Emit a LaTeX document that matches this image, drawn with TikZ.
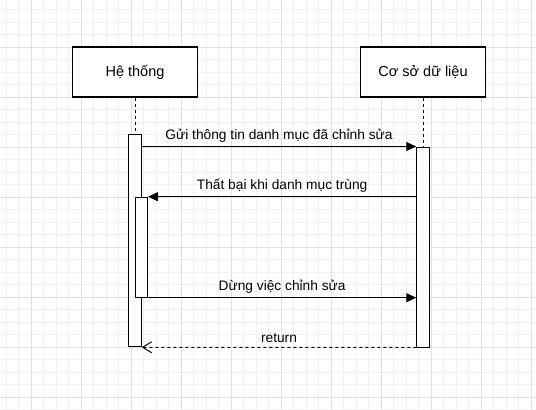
\documentclass[tikz,border=0pt]{standalone}
\usepackage{fontspec}
\setmainfont{Liberation Sans}
\usepackage{tikz}
\usetikzlibrary{positioning, calc, arrows.meta}
\definecolor{gridminor}{HTML}{F1F1F1}
\definecolor{gridmajor}{HTML}{E0E0E0}
\tikzset{lifebox/.style = {rectangle,draw,line width=1.2pt,fill=white,minimum width=125pt,minimum height=50pt,inner sep=0pt,font=\fontsize{14.5}{17}\selectfont},
         actbar/.style = {rectangle,draw,line width=1pt,fill=white,minimum width=12.5pt,inner sep=0pt},
         lifeline/.style = {line width=1pt,dash pattern=on 3pt off 3pt},
         msg/.style = {line width=1pt,-{Triangle[length=10pt,width=9pt]}},
         reply/.style = {line width=1pt,dash pattern=on 3pt off 3pt,-{Straight Barb[length=9pt,width=11pt]}},
         msglabel/.style = {above=3pt,inner sep=1pt}}

\begin{document}
\begin{tikzpicture}[x=1pt,y=-1pt,font=\fontsize{13.75}{16}\selectfont]
        \useasboundingbox (0,0) rectangle (536,410);
        % grid
        \foreach \x in {6.25,18.75,...,531.25} \draw[gridminor,line width=1pt] (\x,0) -- (\x,410);
        \foreach \y in {9.5,22,...,409.5} \draw[gridminor,line width=1pt] (0,\y) -- (536,\y);
        \foreach \x in {31.25,81.25,...,531.25} \draw[gridmajor,line width=1pt] (\x,0) -- (\x,410);
        \foreach \y in {47,97,...,397} \draw[gridmajor,line width=1pt] (0,\y) -- (536,\y);

        \node [lifebox] (sys) at (135,72)   {Hệ thống};
        \node [lifebox] (db)  at (423,72)   {Cơ sở dữ liệu};

        \node [actbar,minimum height=212.5pt] (sysbar) at (135,240.5)  {};
        \node [actbar,minimum height=200pt]   (dbbar)  at (423,247)    {};

        \draw [lifeline] (sys.south) -- (sysbar.north);
        \draw [lifeline] (db.south) -- (dbbar.north);
        \node [actbar,minimum height=100pt]   (retry)  at (141.25,247.2) {};

        \draw [msg] (sysbar.east |- dbbar.north) -- node[msglabel] {Gửi thông tin danh mục đã chỉnh sửa} (dbbar.north west);
        \draw [msg] (dbbar.west |- retry.north) -- node[msglabel] {Thất bại khi danh mục trùng} (retry.north east);
        \draw [msg] (retry.south east) -- node[msglabel] {Dừng việc chỉnh sửa} (dbbar.west |- retry.south);
        \draw [reply] (dbbar.south west) -- node[msglabel] {return} (sysbar.south east);
    \end{tikzpicture}
\end{document}
